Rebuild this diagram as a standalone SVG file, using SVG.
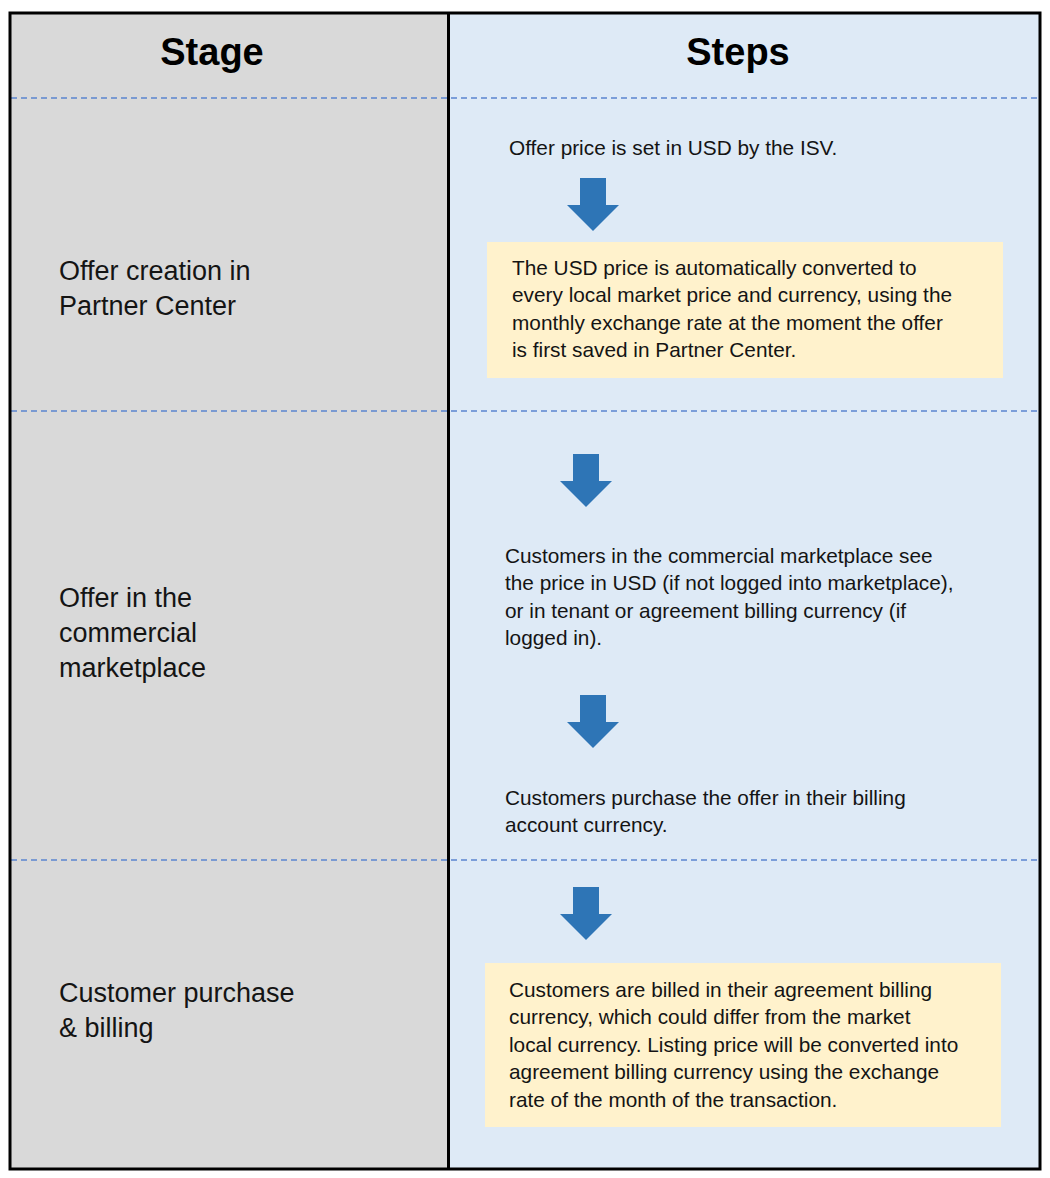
<svg xmlns="http://www.w3.org/2000/svg" width="1050" height="1178" viewBox="0 0 1050 1178">
<style>
.hdr{font-family:"Liberation Sans",Arial,sans-serif;font-weight:bold;font-size:38px;fill:#000;text-anchor:middle}
.stage{font-family:"Liberation Sans",Arial,sans-serif;font-size:27px;fill:#141414}
.step{font-family:"Liberation Sans",Arial,sans-serif;font-size:20.8px;fill:#141414}
.dash{stroke:#5b85cf;stroke-width:1.5;stroke-dasharray:6 4;fill:none}
.arrow{fill:#2e75b6}
.note{fill:#fff2cc}
</style>
<defs>
<path id="arr" d="M-13,0 H13 V27 H26 L0,53 L-26,27 H-13 Z"/>
</defs>
<rect width="1050" height="1178" fill="#ffffff"/>
<g id="table">
<rect x="10" y="13" width="438" height="1156" fill="#d9d9d9"/>
<rect x="448" y="13" width="592" height="1156" fill="#deeaf6"/>
</g>
<g id="separators">
<line class="dash" x1="11" y1="98" x2="1040" y2="98"/>
<line class="dash" x1="11" y1="411" x2="1040" y2="411"/>
<line class="dash" x1="11" y1="860" x2="1040" y2="860"/>
</g>
<g id="borders" fill="none" stroke="#000">
<rect x="10" y="13" width="1030" height="1156" stroke-width="3"/>
<line x1="448.5" y1="13" x2="448.5" y2="1169" stroke-width="3"/>
</g>
<g id="header">
<text class="hdr" x="212" y="65">Stage</text>
<text class="hdr" x="738" y="65">Steps</text>
</g>
<g id="stage-offer-creation">
<text class="stage" x="59" y="280">Offer creation in</text>
<text class="stage" x="59" y="315">Partner Center</text>
</g>
<g id="stage-marketplace">
<text class="stage" x="59" y="607">Offer in the</text>
<text class="stage" x="59" y="642">commercial</text>
<text class="stage" x="59" y="677">marketplace</text>
</g>
<g id="stage-billing">
<text class="stage" x="59" y="1002">Customer purchase</text>
<text class="stage" x="59" y="1037">&amp; billing</text>
</g>
<g id="step-set-price">
<text class="step" x="509" y="155">Offer price is set in USD by the ISV.</text>
</g>
<g id="step-convert">
<rect class="note" x="487" y="242" width="516" height="136"/>
<text class="step" x="512" y="275">The USD price is automatically converted to</text>
<text class="step" x="512" y="302">every local market price and currency, using the</text>
<text class="step" x="512" y="330">monthly exchange rate at the moment the offer</text>
<text class="step" x="512" y="357">is first saved in Partner Center.</text>
</g>
<g id="step-see-price">
<text class="step" x="505" y="563">Customers in the commercial marketplace see</text>
<text class="step" x="505" y="590">the price in USD (if not logged into marketplace),</text>
<text class="step" x="505" y="618">or in tenant or agreement billing currency (if</text>
<text class="step" x="505" y="645">logged in).</text>
</g>
<g id="step-purchase">
<text class="step" x="505" y="805">Customers purchase the offer in their billing</text>
<text class="step" x="505" y="832">account currency.</text>
</g>
<g id="step-billed">
<rect class="note" x="485" y="963" width="516" height="164"/>
<text class="step" x="509" y="997">Customers are billed in their agreement billing</text>
<text class="step" x="509" y="1024">currency, which could differ from the market</text>
<text class="step" x="509" y="1052">local currency. Listing price will be converted into</text>
<text class="step" x="509" y="1079">agreement billing currency using the exchange</text>
<text class="step" x="509" y="1107">rate of the month of the transaction.</text>
</g>
<g id="connectors">
<use href="#arr" class="arrow" x="593" y="178"/>
<use href="#arr" class="arrow" x="586" y="454"/>
<use href="#arr" class="arrow" x="593" y="695"/>
<use href="#arr" class="arrow" x="586" y="887"/>
</g>
</svg>
